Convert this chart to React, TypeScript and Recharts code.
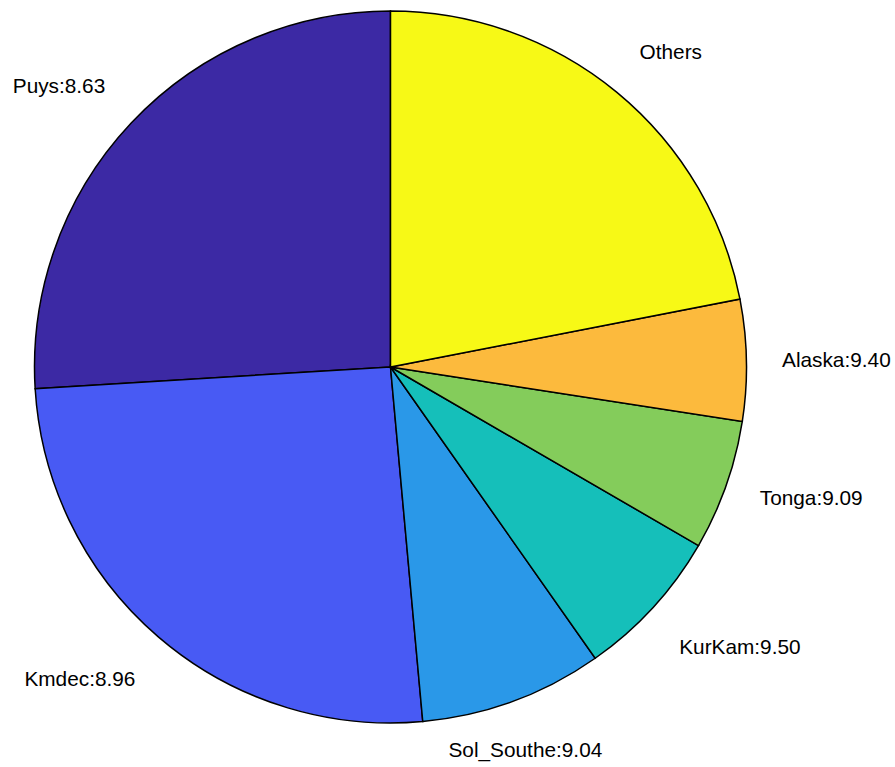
import { PieChart, Pie, Cell } from 'recharts';

// slices, counter-clockwise from 12 o'clock (parula order)
const regions = ['Puys', 'Kmdec', 'Sol_Southe', 'KurKam', 'Tonga', 'Alaska', 'Others'];
const shares = [93.5, 91.7, 29.9, 24.8, 21.3, 19.8, 79.0];
const labels = ['Puys:8.63', 'Kmdec:8.96', 'Sol_Southe:9.04', 'KurKam:9.50', 'Tonga:9.09', 'Alaska:9.40', 'Others'];
const COLORS = ['#3C29A4', '#485AF4', '#2A98E8', '#15BFBA', '#84CC5B', '#FCBA3D', '#F7F916'];

const data = regions.map((name, i) => ({ name, value: shares[i], label: labels[i] }));

const RAD = Math.PI / 180;

const renderLabel = (props: any) => {
  const { cx, cy, midAngle, outerRadius, index } = props;
  const r = outerRadius * 1.1;
  const c = Math.cos(-midAngle * RAD);
  const s = Math.sin(-midAngle * RAD);
  const x = cx + r * c;
  const y = cy + r * s;
  let anchor: 'start' | 'middle' | 'end' = 'middle';
  if (c > 0.4) anchor = 'start';
  else if (c < -0.4) anchor = 'end';
  // y grows downward here, so s < 0 means upper half
  let dy = 8;
  if (s < -0.4) dy = -6;
  else if (s > 0.4) dy = 22;
  return (
    <text
      x={x}
      y={y + dy}
      textAnchor={anchor}
      fill="#000"
      fontSize={20.8}
      fontFamily="'Liberation Sans', Arial, sans-serif"
    >
      {labels[index]}
    </text>
  );
};

export default function App() {
  return (
    <div style={{ position: 'fixed', left: 0, top: 0, width: 895, height: 767, background: '#fff' }}>
      <PieChart width={895} height={767} margin={{ top: 0, right: 0, bottom: 0, left: 0 }}>
        <Pie
          data={data}
          dataKey="value"
          nameKey="name"
          cx={390.5}
          cy={367}
          outerRadius={356}
          startAngle={90}
          endAngle={450}
          stroke="#000"
          strokeWidth={1.5}
          label={renderLabel}
          labelLine={false}
          isAnimationActive={false}
        >
          {data.map((d, i) => (
            <Cell key={d.name} fill={COLORS[i]} />
          ))}
        </Pie>
      </PieChart>
    </div>
  );
}
